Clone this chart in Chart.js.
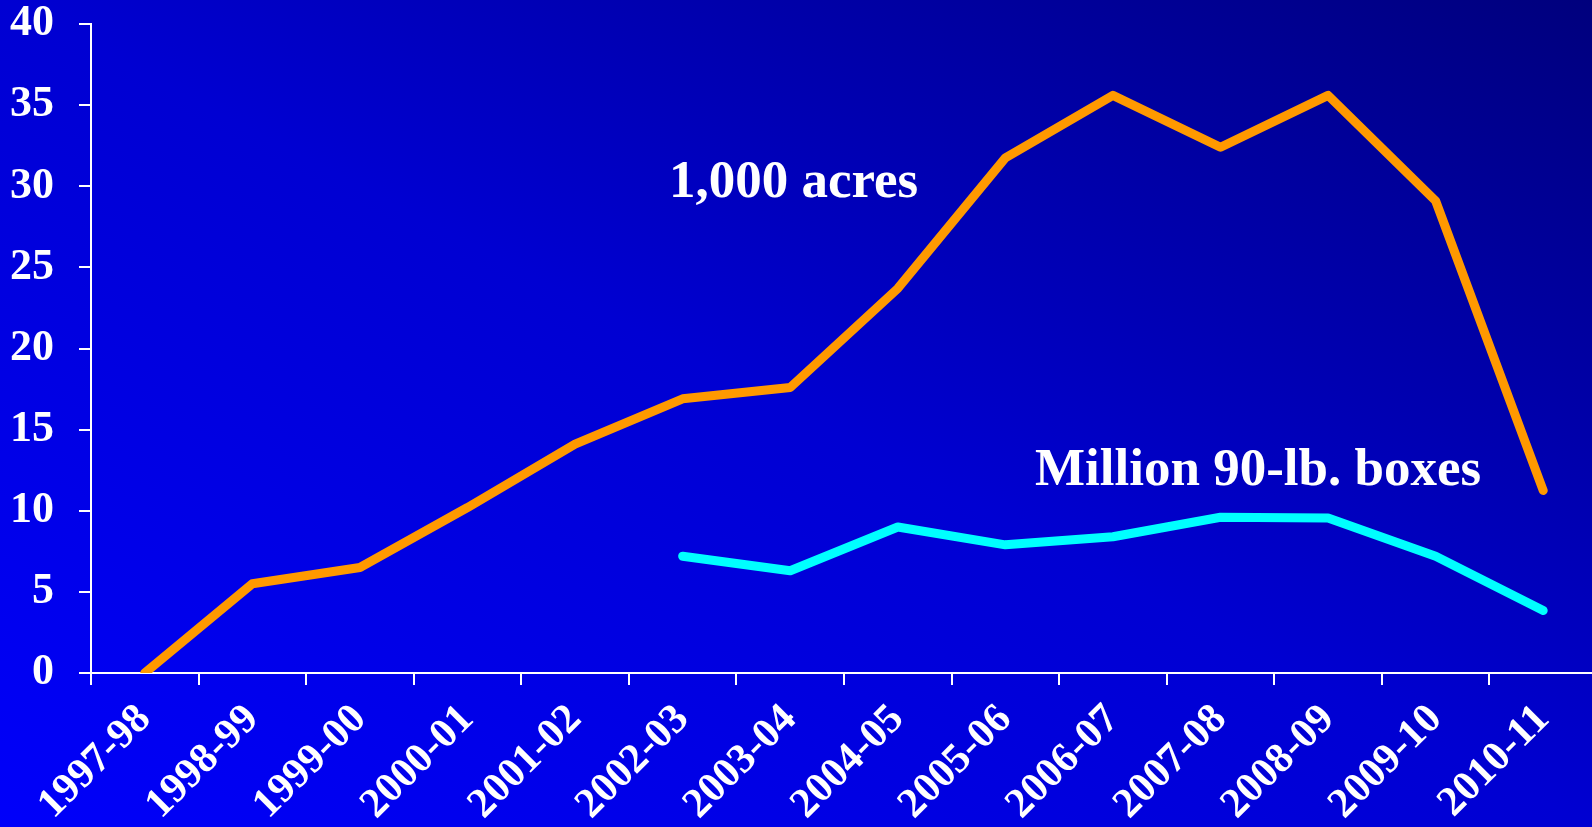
<!DOCTYPE html>
<html>
<head>
<meta charset="utf-8">
<script src="https://cdn.jsdelivr.net/npm/chart.js@4/dist/chart.umd.min.js"></script>
<style>
  html, body { margin: 0; padding: 0; overflow: hidden; width: 1592px; height: 827px; }
  html { background: linear-gradient(to bottom left, #00007d 0%, #0000d2 50%, #0000fa 100%); }
  #wrap { position: absolute; left: 0; top: 0; width: 1600px; height: 827px; }
  canvas { display: block; }
</style>
</head>
<body>
<div id="wrap"><canvas id="c" width="1600" height="827"></canvas></div>
<script>
const categories = ['1997-98','1998-99','1999-00','2000-01','2001-02','2002-03','2003-04','2004-05','2005-06','2006-07','2007-08','2008-09','2009-10','2010-11'];
const acres = [0, 5.5, 6.5, 10.2, 14.1, 16.9, 17.6, 23.7, 31.75, 35.6, 32.4, 35.6, 29.1, 11.25];
const boxes = [null, null, null, null, null, 7.2, 6.3, 9.0, 7.9, 8.4, 9.6, 9.55, 7.2, 3.85];
const yTicks = [0, 5, 10, 15, 20, 25, 30, 35, 40];
const seriesLabels = ['1,000 acres', 'Million 90-lb. boxes'];

const FONT = "'Liberation Serif', 'Times New Roman', serif";

const labelPlugin = {
  id: 'seriesLabels',
  afterDatasetsDraw(chart) {
    const ctx = chart.ctx;
    ctx.save();
    ctx.fillStyle = '#ffffff';
    ctx.font = 'bold 53px ' + FONT;
    ctx.textBaseline = 'alphabetic';
    ctx.textAlign = 'left';
    ctx.fillText(seriesLabels[0], 669, 197);
    ctx.fillText(seriesLabels[1], 1035, 485);
    ctx.restore();
  }
};

new Chart(document.getElementById('c'), {
  type: 'line',
  data: {
    labels: categories,
    datasets: [
      {
        label: seriesLabels[0],
        data: acres,
        borderColor: '#ff9900',
        backgroundColor: '#ff9900',
        borderWidth: 9,
        pointRadius: 0,
        tension: 0,
        borderCapStyle: 'round',
        borderJoinStyle: 'round',
        clip: { left: false, top: false, right: false, bottom: 0 }
      },
      {
        label: seriesLabels[1],
        data: boxes,
        borderColor: '#00ffff',
        backgroundColor: '#00ffff',
        borderWidth: 9,
        pointRadius: 0,
        tension: 0,
        borderCapStyle: 'round',
        borderJoinStyle: 'round',
        spanGaps: false,
        clip: false
      }
    ]
  },
  options: {
    responsive: false,
    animation: false,
    events: [],
    layout: { padding: { top: 24, right: 3, left: 0, bottom: 0 } },
    plugins: { legend: { display: false }, tooltip: { enabled: false } },
    scales: {
      x: {
        type: 'category',
        offset: true,
        grid: { display: true, drawOnChartArea: false, offset: true, tickLength: 12, color: '#ffffff', lineWidth: 2 },
        border: { display: true, color: '#ffffff', width: 2 },
        ticks: {
          color: '#ffffff',
          font: { family: FONT, size: 42, weight: 'bold' },
          minRotation: 45, maxRotation: 45,
          autoSkip: false,
          padding: 10
        },
        afterFit(s) { s.height = 154; s.paddingTop = 0; s.paddingBottom = 0; }
      },
      y: {
        min: 0, max: 40,
        afterBuildTicks(s) { s.ticks = yTicks.map(v => ({ value: v })); },
        grid: { display: true, drawOnChartArea: false, tickLength: 12, color: '#ffffff', lineWidth: 2 },
        border: { display: true, color: '#ffffff', width: 2 },
        ticks: {
          color: '#ffffff',
          font: { family: FONT, size: 44, weight: 'bold' },
          padding: 25
        },
        afterFit(s) { s.width = 91; s.paddingTop = 0; s.paddingBottom = 0; }
      }
    }
  },
  plugins: [labelPlugin]
});
</script>
</body>
</html>
